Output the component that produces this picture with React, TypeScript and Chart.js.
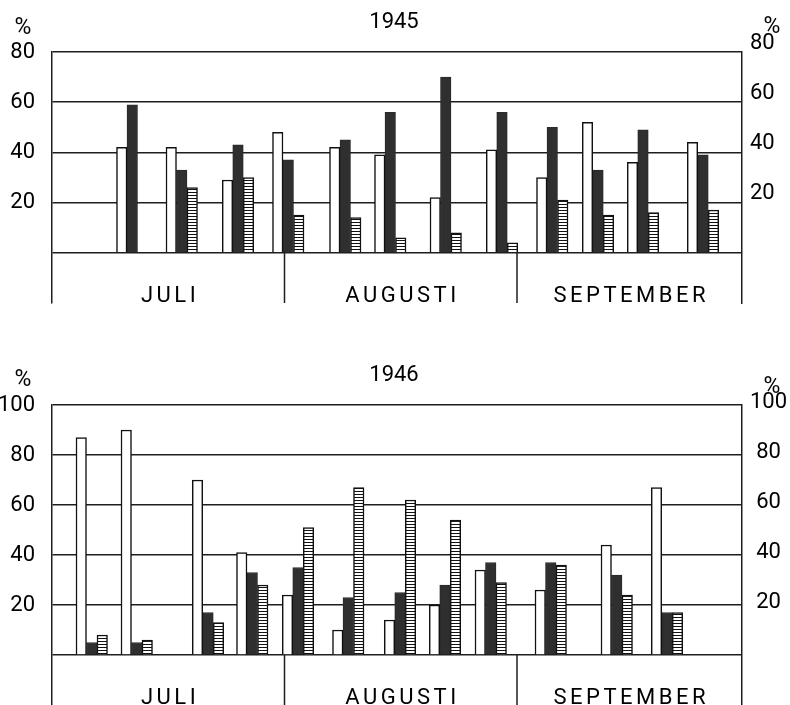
import React, { useEffect, useRef } from 'react';
import { Chart, registerables } from 'chart.js';

Chart.register(...registerables);

// ---- data ----
const MONTHS = ['JULI', 'AUGUSTI', 'SEPTEMBER'];
const MONTH_DAYS = [31, 31, 30];

const TITLE_1945 = '1945';
const DAYS_1945 = [10.7, 17.3, 24.8, 31.5, 39.1, 45.1, 52.5, 60.0, 66.7, 72.8, 78.8, 86.8];
const WHITE_1945 = [42, 42, 29, 48, 42, 39, 22, 41, 30, 52, 36, 44];
const BLACK_1945 = [59, 33, 43, 37, 45, 56, 70, 56, 50, 33, 49, 39];
const HATCH_1945 = [null, 26, 30, 15, 14, 6, 8, 4, 21, 15, 16, 17];
const Y_MAX_1945 = 80;

const TITLE_1946 = '1946';
const DAYS_1946 = [5.3, 11.3, 20.8, 26.7, 32.8, 39.5, 46.4, 52.4, 58.5, 66.5, 75.3, 82.0];
const WHITE_1946 = [87, 90, 70, 41, 24, 10, 14, 20, 34, 26, 44, 67];
const BLACK_1946 = [5, 5, 17, 33, 35, 23, 25, 28, 37, 37, 32, 17];
const HATCH_1946 = [8, 6, 13, 28, 51, 67, 62, 54, 29, 36, 24, 17];
const Y_MAX_1946 = 100;

const Y_MIN = -20;
const Y_STEP = 20;
const UNIT = '%';

// ---- style ----
const INK = '#000000';
const LINE = '#1e1e1e';
const FONT = 'Roboto, "Noto Sans", sans-serif';

function makeHatch(): CanvasPattern | string {
  const c = document.createElement('canvas');
  c.width = 4;
  c.height = 3;
  const g = c.getContext('2d');
  if (!g) return '#fff';
  g.fillStyle = '#ffffff';
  g.fillRect(0, 0, 4, 3);
  g.fillStyle = '#111111';
  g.fillRect(0, 0, 4, 1);
  return g.createPattern(c, 'repeat') || '#fff';
}

type PanelProps = {
  title: string;
  days: number[];
  white: (number | null)[];
  black: (number | null)[];
  hatch: (number | null)[];
  yMax: number;
  top: number;
  height: number;
  padTop: number;
  padBottom: number;
  rightLabelOffset: number;
  rightAlign: string;
  pctLeftDy: number;
  pctRightDy: number;
};

function Panel(p: PanelProps) {
  const ref = useRef<HTMLCanvasElement | null>(null);

  useEffect(() => {
    const canvas = ref.current;
    if (!canvas) return;
    const toPts = (vals: (number | null)[]) => p.days.map((d, i) => ({ x: d, y: vals[i] }));
    const totalDays = MONTH_DAYS.reduce((a, b) => a + b, 0);

    const decor = {
      id: 'decor',
      beforeDatasetsDraw(chart: any) {
        const { ctx, chartArea, scales } = chart;
        const xs = scales.x;
        const ys = scales.y;
        const y0 = ys.getPixelForValue(0);
        ctx.save();
        ctx.strokeStyle = LINE;
        ctx.lineWidth = 1.5;
        let acc = 0;
        for (let i = 0; i < MONTH_DAYS.length - 1; i++) {
          acc += MONTH_DAYS[i];
          const px = xs.getPixelForValue(acc);
          ctx.beginPath();
          ctx.moveTo(px, y0);
          ctx.lineTo(px, chartArea.bottom);
          ctx.stroke();
        }
        ctx.restore();
      },
      afterDraw(chart: any) {
        const { ctx, chartArea, scales } = chart;
        const xs = scales.x;
        const ys = scales.y;
        ctx.save();
        ctx.fillStyle = INK;
        ctx.font = `22px ${FONT}`;
        ctx.textAlign = 'center';
        ctx.textBaseline = 'alphabetic';
        // title
        ctx.fillText(p.title, (chartArea.left + chartArea.right) / 2 - 3, chartArea.top - 24);
        // unit marks
        ctx.font = `23px ${FONT}`;
        ctx.fillText(UNIT, 23, chartArea.top - 19 + p.pctLeftDy);
        ctx.fillText(UNIT, 772, chartArea.top - 19 + p.pctRightDy);
        // month labels
        ctx.font = `22px ${FONT}`;
        (ctx as any).letterSpacing = '3.5px';
        let acc = 0;
        const base = ys.getPixelForValue(-19.5);
        MONTHS.forEach((m, i) => {
          const a = xs.getPixelForValue(acc);
          acc += MONTH_DAYS[i];
          const b = xs.getPixelForValue(acc);
          ctx.fillText(m, (a + b) / 2 + 1.75, base);
        });
        ctx.restore();
      },
    };

    const hatchFill = makeHatch();

    const chart = new Chart(canvas, {
      type: 'bar',
      data: {
        datasets: [
          {
            data: toPts(p.white) as any,
            backgroundColor: '#ffffff',
            borderColor: '#111',
            borderWidth: 1.5,
          },
          {
            data: toPts(p.black) as any,
            backgroundColor: '#2f2f2f',
            borderColor: '#2a2a2a',
            borderWidth: 1,
          },
          {
            data: toPts(p.hatch) as any,
            backgroundColor: hatchFill as any,
            borderColor: '#111',
            borderWidth: 1.5,
          },
        ],
      },
      options: {
        animation: false,
        responsive: false,
        maintainAspectRatio: false,
        layout: { padding: { top: p.padTop, bottom: p.padBottom, left: 0, right: 0 } },
        plugins: { legend: { display: false }, tooltip: { enabled: false }, title: { display: false } },
        datasets: { bar: { barThickness: 10.5, grouped: true } },
        scales: {
          x: {
            type: 'linear',
            min: 0,
            max: totalDays,
            display: false,
            offset: false,
          },
          y: {
            position: 'left',
            min: Y_MIN,
            max: p.yMax,
            afterFit: (s: any) => {
              s.width = 52;
            },
            ticks: {
              stepSize: Y_STEP,
              padding: 17,
              color: INK,
              font: { family: FONT, size: 22 },
              callback: (v: any) => (v < 0 ? null : v === 0 ? '' : String(v)),
            },
            grid: {
              drawTicks: false,
              color: LINE,
              lineWidth: 1.5,
            },
            border: { display: true, color: LINE, width: 1.5 },
          },
          y2: {
            position: 'right',
            min: Y_MIN,
            max: p.yMax,
            afterFit: (s: any) => {
              s.width = 48;
            },
            ticks: {
              stepSize: Y_STEP,
              padding: 8,
              crossAlign: p.rightAlign,
              labelOffset: p.rightLabelOffset,
              color: INK,
              font: { family: FONT, size: 22 },
              callback: (v: any) => (v <= 0 ? null : String(v)),
            },
            grid: { display: false, drawTicks: false },
            border: { display: true, color: LINE, width: 1.5 },
          },
        },
      } as any,
      plugins: [decor],
    });
    return () => chart.destroy();
  }, []);

  return (
    <canvas
      ref={ref}
      width={790}
      height={p.height}
      style={{ position: 'absolute', left: 0, top: p.top, width: 790, height: p.height, display: 'block' }}
    />
  );
}

export default function App() {
  return (
    <div style={{ position: 'absolute', left: 0, top: 0, width: 790, height: 705, background: '#fff', overflow: 'hidden' }}>
      <Panel
        title={TITLE_1945}
        days={DAYS_1945}
        white={WHITE_1945}
        black={BLACK_1945}
        hatch={HATCH_1945}
        yMax={Y_MAX_1945}
        top={0}
        height={350}
        padTop={52}
        padBottom={47}
        rightLabelOffset={-9}
        rightAlign="near"
        pctLeftDy={1}
        pctRightDy={0}
      />
      <Panel
        title={TITLE_1946}
        days={DAYS_1946}
        white={WHITE_1946}
        black={BLACK_1946}
        hatch={HATCH_1946}
        yMax={Y_MAX_1946}
        top={350}
        height={400}
        padTop={55}
        padBottom={45}
        rightLabelOffset={-3}
        rightAlign="center"
        pctLeftDy={0}
        pctRightDy={7}
      />
    </div>
  );
}
